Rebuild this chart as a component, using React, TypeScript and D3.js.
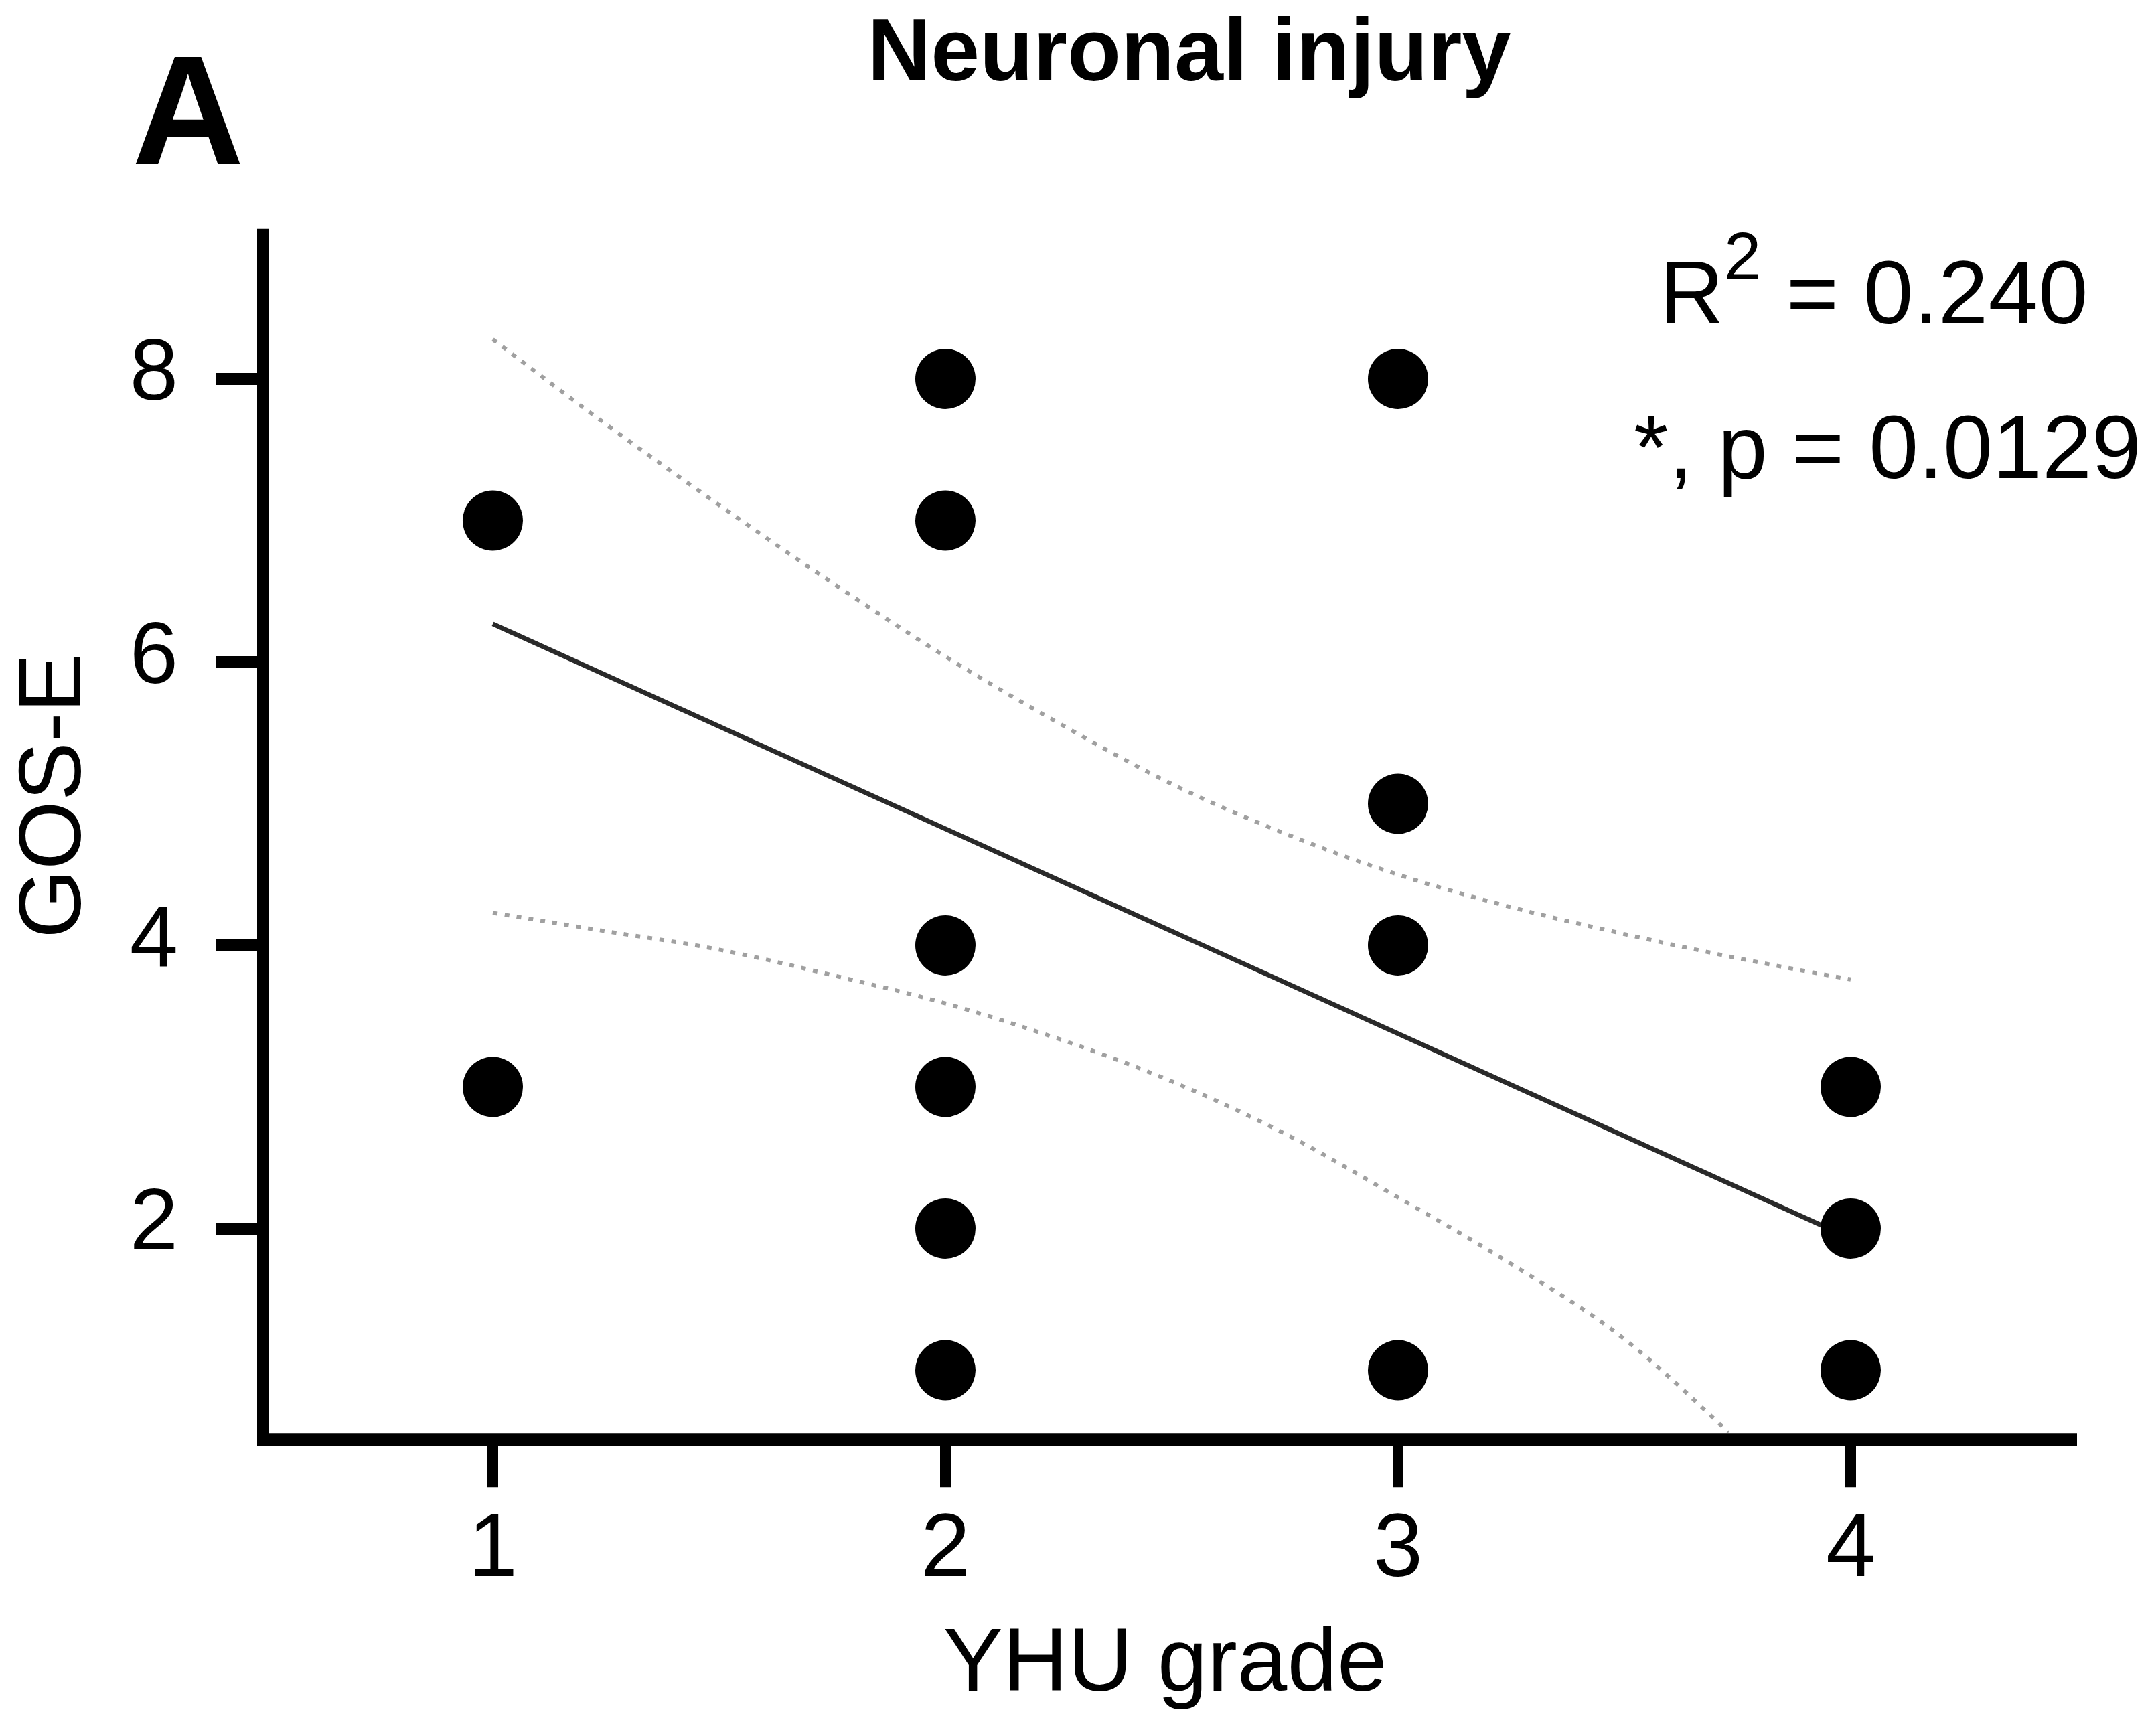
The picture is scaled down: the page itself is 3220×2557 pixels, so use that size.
import React from "react";
import * as d3 from "d3";

// ---- data ----
const pointX = [1, 1, 2, 2, 2, 2, 2, 2, 3, 3, 3, 3, 4, 4, 4];
const pointY = [7, 3, 8, 7, 4, 3, 2, 1, 8, 5, 4, 1, 3, 2, 1];

const fitX = [1, 4];
const fitY = [6.27, 1.93];

const upperX = [1, 1.25, 1.5, 1.75, 2, 2.25, 2.5, 2.75, 3, 3.25, 3.5, 3.75, 4];
const upperY = [8.28, 7.68, 7.11, 6.56, 6.04, 5.57, 5.14, 4.79, 4.5, 4.27, 4.08, 3.91, 3.76];

const lowerX = [1, 1.25, 1.5, 1.75, 2, 2.25, 2.5, 2.75, 3, 3.25, 3.5, 3.73];
const lowerY = [4.23, 4.1, 3.97, 3.79, 3.59, 3.34, 3.04, 2.67, 2.22, 1.75, 1.22, 0.56];

const xTicks = [1, 2, 3, 4];
const yTicks = [2, 4, 6, 8];

const title = "Neuronal injury";
const panelLabel = "A";
const xLabel = "YHU grade";
const yLabel = "GOS-E";
const r2Text = "0.240";
const pText = "0.0129";

const W = 3220;
const H = 2557;
const FONT = "'Liberation Sans', Arial, Helvetica, sans-serif";

export default function App() {
  const x = d3.scaleLinear().domain([0.5, 4.5]).range([398, 3102]);
  const y = d3.scaleLinear().domain([0, 8]).range([2258, 566]);

  const xAxisY = y(0.51);
  const yAxisX = x(0.5) - 5;
  const yTop = y(9.06);

  const line = d3
    .line<[number, number]>()
    .x((d) => x(d[0]))
    .y((d) => y(d[1]))
    .curve(d3.curveMonotoneX);

  const upper = line(upperX.map((v, i) => [v, upperY[i]] as [number, number])) || "";
  const lower = line(lowerX.map((v, i) => [v, lowerY[i]] as [number, number])) || "";
  const fit = d3
    .line<[number, number]>()
    .x((d) => x(d[0]))
    .y((d) => y(d[1]))(fitX.map((v, i) => [v, fitY[i]] as [number, number])) || "";

  const sw = 18;
  const tickLen = 62;

  return (
    <svg
      width={W}
      height={H}
      viewBox={`0 0 ${W} ${H}`}
      style={{ position: "absolute", left: 0, top: 0, background: "#fff" }}
      fontFamily={FONT}
    >
      <rect x={0} y={0} width={W} height={H} fill="#fff" />

      {/* titles */}
      <text x={1776} y={120} fontSize={131} fontWeight="bold" textAnchor="middle" fill="#000">
        {title}
      </text>
      <text x={197} y={245} fontSize={232} fontWeight="bold" fill="#000">
        {panelLabel}
      </text>

      {/* confidence bands */}
      <path d={upper} fill="none" stroke="#a0a0a0" strokeWidth={6} strokeDasharray="7 11" />
      <path d={lower} fill="none" stroke="#a0a0a0" strokeWidth={6} strokeDasharray="7 11" />

      {/* regression line */}
      <path d={fit} fill="none" stroke="#2a2a2a" strokeWidth={7} />

      {/* points */}
      {pointX.map((v, i) => (
        <circle key={i} cx={x(v)} cy={y(pointY[i])} r={45} fill="#000" />
      ))}

      {/* axes */}
      <line x1={yAxisX} x2={yAxisX} y1={yTop} y2={xAxisY + sw / 2} stroke="#000" strokeWidth={sw} />
      <line x1={yAxisX - sw / 2} x2={x(4.5)} y1={xAxisY} y2={xAxisY} stroke="#000" strokeWidth={sw} />

      {yTicks.map((t) => (
        <g key={"y" + t}>
          <line
            x1={yAxisX - sw / 2 - tickLen}
            x2={yAxisX}
            y1={y(t)}
            y2={y(t)}
            stroke="#000"
            strokeWidth={sw}
          />
          <text x={266} y={y(t) + 31} fontSize={130} textAnchor="end" fill="#000">
            {t}
          </text>
        </g>
      ))}

      {xTicks.map((t) => (
        <g key={"x" + t}>
          <line
            x1={x(t)}
            x2={x(t)}
            y1={xAxisY}
            y2={xAxisY + sw / 2 + tickLen}
            stroke="#000"
            strokeWidth={16}
          />
          <text x={x(t)} y={2354} fontSize={133} textAnchor="middle" fill="#000">
            {t}
          </text>
        </g>
      ))}

      {/* axis labels */}
      <text x={1740} y={2525} fontSize={134} textAnchor="middle" fill="#000">
        {xLabel}
      </text>
      <text
        transform={`translate(120, 1189) rotate(-90)`}
        fontSize={132}
        textAnchor="middle"
        fill="#000"
      >
        {yLabel}
      </text>

      {/* statistics */}
      <text x={2478} y={483} fontSize={134} fill="#000">
        R
        <tspan fontSize={100} dy={-66}>2</tspan>
        <tspan dy={66}>{" = " + r2Text}</tspan>
      </text>
      <text x={2440} y={714} fontSize={133} fill="#000">
        {"*, p = " + pText}
      </text>
    </svg>
  );
}
